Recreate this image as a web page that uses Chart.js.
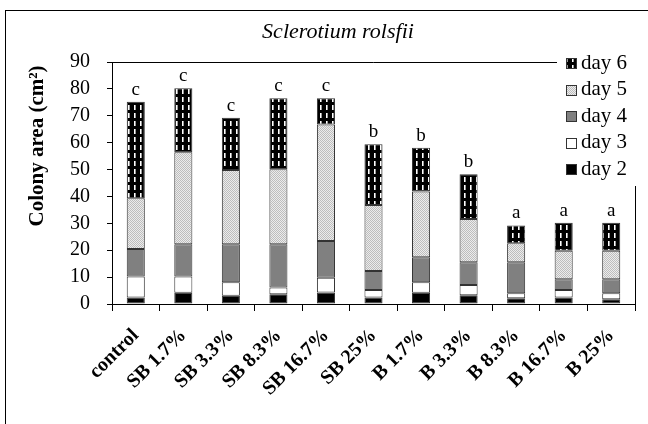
<!DOCTYPE html>
<html>
<head>
<meta charset="utf-8">
<script src="https://cdn.jsdelivr.net/npm/chart.js@4.4.0/dist/chart.umd.min.js"></script>
<style>
  html, body { margin: 0; padding: 0; background: #fff; }
  #wrap { width: 648px; height: 424px; }
</style>
</head>
<body>
<div id="wrap"><canvas id="colonyChart" width="648" height="424"></canvas></div>
<script>
const categories = ['control', 'SB 1.7%', 'SB 3.3%', 'SB 8.3%', 'SB 16.7%', 'SB 25%',
    'B 1.7%', 'B 3.3%', 'B 8.3%', 'B 16.7%', 'B 25%'];

// colony area added per day (cm2)
const day2 = [2.4, 4.2, 3.1, 3.6, 4.3, 2.4, 4.2, 3.3, 2.1, 2.4, 1.8];
const day3 = [7.8, 6.0, 5.0, 2.5, 5.5, 2.8, 3.9, 3.8, 1.9, 2.8, 2.2];
const day4 = [10.3, 12.0, 14.1, 16.1, 13.6, 7.1, 9.3, 8.4, 11.5, 4.0, 5.2];
const day5 = [18.8, 34.2, 27.6, 27.9, 43.4, 24.5, 24.4, 16.1, 7.1, 10.6, 10.6];
const day6 = [35.9, 23.8, 19.5, 26.4, 9.7, 22.6, 16.3, 16.7, 6.6, 10.4, 10.4];

// significance letters above each bar
const letters = ['c', 'c', 'c', 'c', 'c', 'b', 'b', 'b', 'a', 'a', 'a'];

const yMin = 0;
const yMax = 90;
const yStep = 10;

const serif = '"Liberation Serif", "DejaVu Serif", serif';

const ctx = document.getElementById('colonyChart').getContext('2d');

function makePattern(w, h, draw) {
    const c = document.createElement('canvas');
    c.width = w;
    c.height = h;
    draw(c.getContext('2d'));
    return ctx.createPattern(c, 'repeat');
}

// black with short white vertical dashes
const dashPattern = makePattern(6, 8, g => {
    g.fillStyle = '#000';
    g.fillRect(0, 0, 6, 8);
    g.fillStyle = '#fff';
    g.fillRect(2, 1, 1, 5);
    g.fillStyle = '#999';
    g.fillRect(3, 1, 1, 5);
});

// light grey stipple
const dotPattern = makePattern(2, 2, g => {
    g.fillStyle = '#ececec';
    g.fillRect(0, 0, 2, 2);
    g.fillStyle = '#bdbdbd';
    g.fillRect(0, 0, 1, 1);
    g.fillRect(1, 1, 1, 1);
});

function barSet(label, values, fill) {
    return {
        label: label,
        data: values,
        backgroundColor: fill,
        borderColor: '#333',
        borderWidth: 1,
        borderSkipped: false,
        barPercentage: 0.38,
        categoryPercentage: 1.0
    };
}

const data = {
    labels: categories,
    datasets: [
        barSet('day 2', day2, '#000'),
        barSet('day 3', day3, '#fff'),
        barSet('day 4', day4, '#808080'),
        barSet('day 5', day5, dotPattern),
        barSet('day 6', day6, dashPattern)
    ]
};

const extras = {
    id: 'extras',
    afterDraw(chart) {
        const c = chart.ctx;
        const area = chart.chartArea;
        c.save();

        // outer frame (only top and left edges are in view)
        c.strokeStyle = '#000';
        c.lineWidth = 1;
        c.strokeRect(5.5, 10.5, 1000, 1000);

        // plot frame top and right
        c.beginPath();
        c.moveTo(area.left, Math.round(area.top) + 0.5);
        c.lineTo(Math.round(area.right) + 0.5, Math.round(area.top) + 0.5);
        c.lineTo(Math.round(area.right) + 0.5, area.bottom);
        c.stroke();

        // title
        c.fillStyle = '#000';
        c.font = 'italic 22px ' + serif;
        c.textAlign = 'center';
        c.textBaseline = 'middle';
        c.fillText('Sclerotium rolsfii', 338, 32);

        // y axis title
        c.save();
        c.translate(38, 146);
        c.rotate(-Math.PI / 2);
        c.font = 'bold 21px ' + serif;
        c.fillText('Colony area (cm²)', 0, 0);
        c.restore();

        // letters above bars
        const top = chart.getDatasetMeta(chart.data.datasets.length - 1);
        c.font = '19px ' + serif;
        top.data.forEach((bar, i) => {
            c.fillText(letters[i], bar.x, bar.y - 12);
        });

        // legend
        c.fillStyle = '#fff';
        c.fillRect(557, 48, 91, 138);
        const items = chart.data.datasets.slice().reverse();
        c.font = '21px ' + serif;
        c.textAlign = 'left';
        items.forEach((ds, i) => {
            const y = 63 + i * 26.5;
            c.fillStyle = ds.backgroundColor;
            c.fillRect(566, Math.round(y) - 5, 11, 11);
            c.strokeStyle = '#333';
            c.strokeRect(566.5, Math.round(y) - 4.5, 10, 10);
            c.fillStyle = '#000';
            c.fillText(ds.label, 581, y);
        });

        c.restore();
    }
};

const config = {
    type: 'bar',
    data: data,
    options: {
        responsive: false,
        animation: false,
        devicePixelRatio: 1,
        layout: {
            padding: { top: 62, right: 13, left: 0, bottom: 0 }
        },
        plugins: {
            legend: { display: false },
            tooltip: { enabled: false },
            title: { display: false }
        },
        scales: {
            x: {
                stacked: true,
                grid: {
                    display: true,
                    offset: true,
                    drawOnChartArea: false,
                    drawTicks: true,
                    tickLength: 7,
                    color: '#000'
                },
                border: { color: '#000', width: 1 },
                ticks: {
                    color: '#000',
                    autoSkip: false,
                    minRotation: 45,
                    maxRotation: 45,
                    padding: 13,
                    font: { family: serif, size: 20, weight: 'bold' }
                },
                afterFit: scale => { scale.height = 120; }
            },
            y: {
                stacked: true,
                min: yMin,
                max: yMax,
                grid: {
                    drawOnChartArea: false,
                    drawTicks: true,
                    tickLength: 5,
                    color: '#000'
                },
                border: { color: '#000', width: 1 },
                ticks: {
                    stepSize: yStep,
                    autoSkip: false,
                    color: '#000',
                    padding: 17,
                    font: { family: serif, size: 20 }
                },
                afterFit: scale => { scale.width = 112; }
            }
        }
    },
    plugins: [extras]
};

const colonyChart = new Chart(ctx, config);
</script>
</body>
</html>
